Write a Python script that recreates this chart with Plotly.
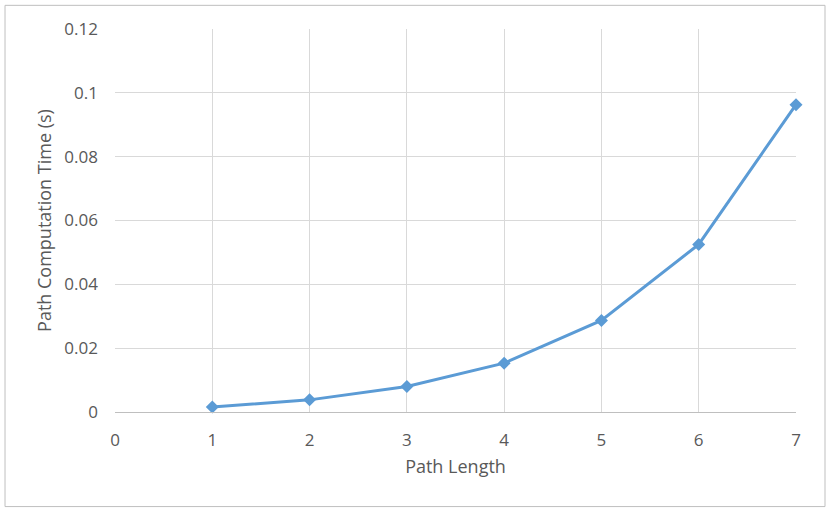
import plotly.graph_objects as go

path_length = [1, 2, 3, 4, 5, 6, 7]
compute_time = [0.0016, 0.0038, 0.0080, 0.0153, 0.0287, 0.0525, 0.0963]

fig = go.Figure()
fig.add_trace(go.Scatter(
    x=path_length, y=compute_time,
    mode='lines+markers',
    line=dict(color='#5b9bd5', width=3),
    marker=dict(symbol='diamond', size=10, color='#5b9bd5'),
    cliponaxis=False,
    showlegend=False,
))

family = 'Open Sans, Liberation Sans, sans-serif'
tick_font = dict(family=family, size=17, color='#595959')
title_font = dict(family=family, size=18, color='#595959')

fig.update_xaxes(
    range=[0, 7], dtick=1, tick0=0,
    showgrid=True, gridcolor='#d9d9d9', gridwidth=1.3,
    showline=True, linecolor='#bfbfbf', linewidth=1.3,
    zeroline=False, ticks='', ticklabelstandoff=12,
    tickfont=tick_font,
    title=dict(text='Path Length', font=title_font, standoff=10),
)
fig.update_yaxes(
    range=[0, 0.12], dtick=0.02, tick0=0,
    showgrid=True, gridcolor='#d9d9d9', gridwidth=1.3,
    zeroline=False, ticks='', ticklabelstandoff=16,
    tickfont=tick_font,
    title=dict(text='Path Computation Time (s)', font=title_font, standoff=8),
)

# chart border
fig.add_shape(type='rect', xref='paper', yref='paper',
              x0=-0.1615, x1=1.0426, y0=-0.2469, y1=1.0618,
              line=dict(color='#bfbfbf', width=1))

fig.update_layout(
    width=830, height=512,
    margin=dict(l=115, r=34, t=29, b=100),
    plot_bgcolor='white', paper_bgcolor='white',
    font=tick_font,
)

fig.write_html('out.html', config={'displayModeBar': False},
               post_script="document.body.style.margin='0';")
